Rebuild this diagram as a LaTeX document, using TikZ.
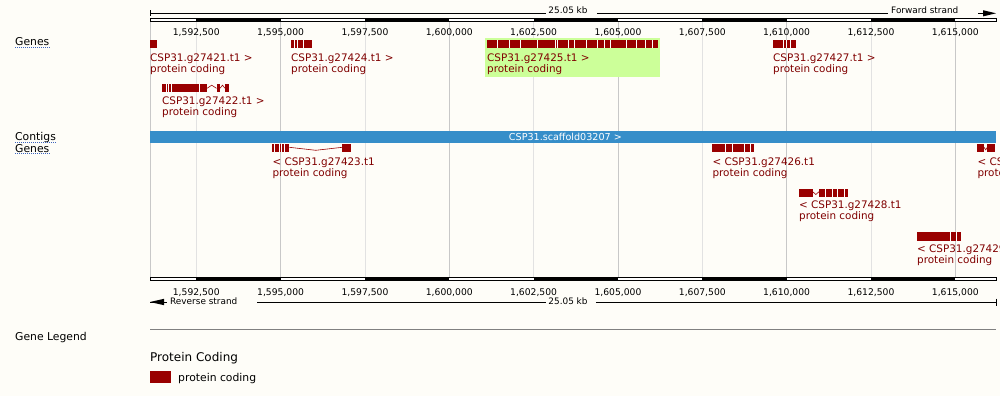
\documentclass[tikz,border=0pt]{standalone}
\usepackage{fontspec}
\setmainfont{DejaVu Sans}
\usetikzlibrary{positioning}

\definecolor{bgcream}{RGB}{254,253,248}
\definecolor{genered}{RGB}{153,0,0}
\definecolor{labelred}{RGB}{128,0,0}
\definecolor{contigblue}{RGB}{54,142,201}
\definecolor{hlgreen}{RGB}{204,255,153}
\definecolor{gridlight}{RGB}{226,226,226}
\definecolor{griddark}{RGB}{200,200,200}
\definecolor{trackblue}{RGB}{60,100,190}

\begin{document}
\begin{tikzpicture}[x=1pt, y=-1pt,
    glabel/.style={anchor=base west, inner sep=0pt, text=labelred, font=\fontsize{10.4}{11}\selectfont},
    ticklabel/.style={inner sep=0pt, font=\fontsize{9.2}{10}\selectfont},
    strandlabel/.style={inner sep=0pt, font=\fontsize{8.9}{9}\selectfont},
    tracklabel/.style={anchor=west, inner sep=0pt, font=\fontsize{10.8}{12}\selectfont},
    underdots/.style={trackblue, line width=0.7, dash pattern=on 1pt off 1pt},
    intronline/.style={genered, line width=0.6}]

    % Fons i marges de la imatge
    \fill[bgcream] (0,0) rectangle (1000,396);
    \useasboundingbox (0,0) rectangle (1000,396);
    \clip (0,0) rectangle (1000,396);

    % Linies de la graella (cada 2,5 kb)
    \foreach \gx/\gc in {196.3/gridlight, 280.6/griddark, 365/gridlight, 449.3/griddark, 533.6/gridlight,
        618/griddark, 702.3/gridlight, 786.6/griddark, 871/gridlight, 955.3/griddark} {
        \draw[\gc, line width=1] (\gx,22) -- (\gx,277);
    }
    \draw[griddark, line width=1] (150,22) -- (150,277);

    % Regle superior: longitud i cadena directa
    \coordinate (topL) at (150,13.3);
    \coordinate (topR) at (978,13.3);
    \node[strandlabel] (topkb) at (568,10.5) {25.05 kb};
    \node[strandlabel, anchor=west] (fwd) at (891,10.5) {Forward strand};
    \draw[line width=0.8] (150,10.5) -- (150,16.2);
    \draw[line width=0.8] (topL) -- ([xshift=-2pt]topkb.west |- topL);
    \draw[line width=0.8] ([xshift=9pt]topkb.east |- topL) -- ([xshift=-3pt]fwd.west |- topL);
    \draw[line width=0.8] (topR) -- (986,13.3);
    \fill (983,10.2) -- (996,13.3) -- (983,16.4) -- cycle;

    % Barra de coordenades superior
    \draw[line width=0.8, fill=white] (150,18.3) rectangle (996,21.2);
    \foreach \a/\b in {196.3/280.6, 365/449.3, 533.6/618, 702.3/786.6, 871/955.3} {
        \fill (\a,18.3) rectangle (\b,21.2);
    }
    \foreach \gx/\t [count=\i] in {196.3/{1,592,500}, 280.6/{1,595,000}, 365/{1,597,500}, 449.3/{1,600,000},
        533.6/{1,602,500}, 618/{1,605,000}, 702.3/{1,607,500}, 786.6/{1,610,000}, 871/{1,612,500}, 955.3/{1,615,000}} {
        \node[ticklabel] (top\i) at (\gx,33) {\t};
        \node[ticklabel] (bot\i) at (\gx,293) {\t};
    }

    % Gens de la cadena directa
    \fill[hlgreen] (485,38.3) rectangle (660,76.5);
    \fill[genered] (150,40.5) rectangle (157,48.5);
    \fill[genered] (291,40.5) rectangle (312,48.5);
    \fill[genered] (487,40.5) rectangle (658,48.5);
    \fill[genered] (773,40.5) rectangle (796,48.5);
    \fill[genered] (162,84.3) rectangle (207,92.3);
    \fill[genered] (216.5,84.3) rectangle (220,92.3);
    \fill[genered] (225,84.3) rectangle (229,92.3);
    \draw[intronline] (207,88.3) -- (211.7,85.2) -- (216.5,88.3);
    \draw[intronline] (220,88.3) -- (222.5,85.2) -- (225,88.3);
    \foreach \s in {294.5, 297.2, 303.5,
        497.3, 509, 520.7, 537.3, 555, 557.7, 568.3, 574.3, 586.7, 597.3, 604, 610, 626, 636.7, 645.7, 652.3,
        783.3, 786.7, 790.3} {
        \draw[white, line width=0.7] (\s,40.5) -- (\s,48.5);
    }
    \foreach \s in {166.3, 168.2, 171, 199.3} {
        \draw[white, line width=0.7] (\s,84.3) -- (\s,92.3);
    }

    % Etiquetes dels gens directes
    \foreach \lx/\ly/\t [count=\i] in {150/61/{CSP31.g27421.t1 >}, 291/61/{CSP31.g27424.t1 >},
        487/61/{CSP31.g27425.t1 >}, 773/61/{CSP31.g27427.t1 >}, 162/104.5/{CSP31.g27422.t1 >}} {
        \node[glabel] (fn\i) at (\lx,\ly) {\t};
        \node[glabel] (ft\i) at (\lx,\ly+11) {protein coding};
    }

    % Contig
    \fill[contigblue] (150,131) rectangle (996,142.7);
    \node[inner sep=0pt, text=white, font=\fontsize{9.6}{10}\selectfont] (contig) at (565.4,137) {CSP31.scaffold03207 >};

    % Gens de la cadena inversa
    \fill[genered] (272.3,144.3) rectangle (289.3,152.3);
    \fill[genered] (342.3,144.3) rectangle (350.7,152.3);
    \draw[intronline] (289.3,147.3) -- (315.8,150.3) -- (342.3,147.3);
    \fill[genered] (712.3,144.3) rectangle (754.3,152.3);
    \fill[genered] (977.3,144.3) rectangle (984,152.3);
    \fill[genered] (987.3,144.3) rectangle (995,152.3);
    \draw[intronline] (984,147.3) -- (985.7,149.8) -- (987.3,147.3);
    \fill[genered] (799,188.7) rectangle (812.7,196.7);
    \fill[genered] (819,188.7) rectangle (847.7,196.7);
    \draw[intronline] (812.7,191.7) -- (815.8,194.5) -- (819,191.7);
    \fill[genered] (917,232.3) rectangle (960.7,240.7);
    \foreach \s in {274, 279.3, 281.7, 284, 725, 732.3, 744.3, 750} {
        \draw[white, line width=0.7] (\s,144.3) -- (\s,152.3);
    }
    \foreach \s in {825.7, 832.3, 837.3, 844} {
        \draw[white, line width=0.7] (\s,188.7) -- (\s,196.7);
    }
    \foreach \s in {950.7, 956} {
        \draw[white, line width=0.7] (\s,232.3) -- (\s,240.7);
    }

    % Etiquetes dels gens inversos
    \foreach \lx/\ly/\t [count=\i] in {272.3/165/{< CSP31.g27423.t1}, 712.3/165/{< CSP31.g27426.t1},
        977.3/165/{< CSP31.g27430.t1}, 799/208.5/{< CSP31.g27428.t1}, 917/252.5/{< CSP31.g27429.t1}} {
        \node[glabel] (rn\i) at (\lx,\ly) {\t};
        \node[glabel] (rt\i) at (\lx,\ly+11) {protein coding};
    }

    % Noms de les pistes
    \node[tracklabel] (fgenes) at (15,42) {Genes};
    \node[tracklabel] (contigs) at (15,137.3) {Contigs};
    \node[tracklabel] (rgenes) at (15,148.3) {Genes};
    \draw[underdots] (fgenes.west |- 0,47.8) -- (fgenes.east |- 0,47.8);
    \draw[underdots] (contigs.west |- 0,142.5) -- (contigs.east |- 0,142.5);
    \draw[underdots] (rgenes.west |- 0,153.5) -- (rgenes.east |- 0,153.5);

    % Regle inferior
    \draw[line width=0.8, fill=white] (150,277.5) rectangle (996,280.6);
    \foreach \a/\b in {196.3/280.6, 365/449.3, 533.6/618, 702.3/786.6, 871/955.3} {
        \fill (\a,277.5) rectangle (\b,280.6);
    }
    \coordinate (botL) at (257,302);
    \coordinate (botR) at (996,302);
    \node[strandlabel, anchor=west] (rev) at (170,301.5) {Reverse strand};
    \node[strandlabel] (botkb) at (568,301.5) {25.05 kb};
    \fill (150,302) -- (164,298.8) -- (164,305.2) -- cycle;
    \draw[line width=0.8] (150,302) -- (167,302);
    \draw[line width=0.8] (botL) -- ([xshift=-2pt]botkb.west |- botR);
    \draw[line width=0.8] ([xshift=8pt]botkb.east |- botR) -- (botR);
    \draw[line width=0.8] (996,298.5) -- (996,305.5);

    % Llegenda
    \draw[gray, line width=0.8] (150,329.3) -- (996,329.3);
    \node[tracklabel] (legend) at (15,337.3) {Gene Legend};
    \node[tracklabel, font=\fontsize{12}{13}\selectfont] (pcoding) at (150,358.3) {Protein Coding};
    \fill[genered] (150,371) rectangle (171,382.7);
    \node[tracklabel] (pkey) at (178,378.3) {protein coding};

\end{tikzpicture}
\end{document}
